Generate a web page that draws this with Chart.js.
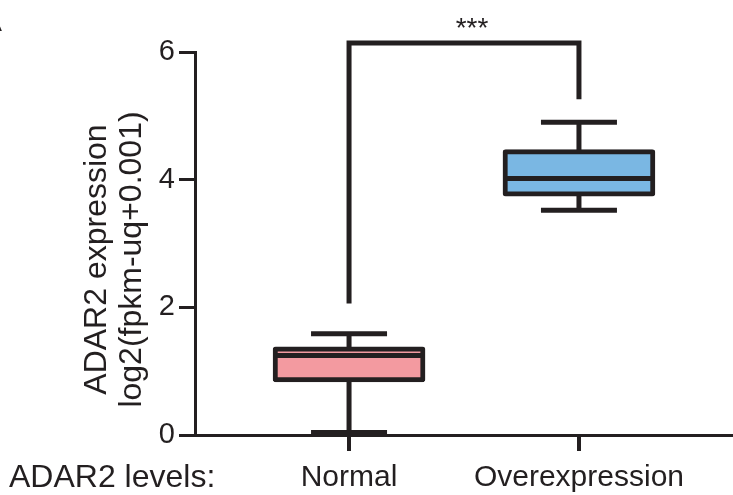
<!DOCTYPE html>
<html lang="en">
<head>
<meta charset="UTF-8" />
<title>ADAR2 expression</title>
<script src="https://cdn.jsdelivr.net/npm/chart.js@4/dist/chart.umd.min.js"></script>
<style>
  body { margin: 0; background: #fff; }
  .chart-container { position: relative; width: 733px; height: 495px; }
</style>
</head>
<body>
<div class="chart-container"><canvas id="chart1"></canvas></div>
<script>
// data
const categories = ['Normal', 'Overexpression'];
const whiskerLow = [0.04, 3.52];
const boxLow = [0.83, 3.74];
const medians = [1.245, 4.02];
const boxHigh = [1.38, 4.47];
const whiskerHigh = [1.585, 4.90];
const boxColors = ['#f39aa0', '#7ab7e3'];
const yTicks = [0, 2, 4, 6];

// significance bracket between the two groups
const bracketFeet = [2.06, 5.26];
const bracketTop = 6.14;
const bracketLabel = '***';

const yTitle = ['ADAR2 expression', 'log2(fpkm-uq+0.001)'];
const xLead = 'ADAR2 levels:';

const ink = '#231f20';
const font = 'Liberation Sans, Arial, Helvetica, sans-serif';
const xTickLen = 16, xTickPad = 12;

const boxExtras = {
  id: 'boxExtras',
  beforeDatasetsDraw(chart) {
    const { ctx, scales: { x, y } } = chart;
    const bars = chart.getDatasetMeta(0).data;
    ctx.save();
    ctx.strokeStyle = ink;
    ctx.lineWidth = 5;
    categories.forEach((c, i) => {
      const cx = x.getPixelForValue(i + 1);
      const half = bars[i].width / 4;
      ctx.beginPath();
      ctx.moveTo(cx, y.getPixelForValue(whiskerLow[i]));
      ctx.lineTo(cx, y.getPixelForValue(whiskerHigh[i]));
      [whiskerLow[i], whiskerHigh[i]].forEach(v => {
        const py = y.getPixelForValue(v);
        ctx.moveTo(cx - half, py);
        ctx.lineTo(cx + half, py);
      });
      ctx.stroke();
    });
    ctx.restore();
  },
  afterDatasetsDraw(chart) {
    const { ctx, chartArea, scales: { x, y } } = chart;
    const bars = chart.getDatasetMeta(0).data;
    ctx.save();
    ctx.strokeStyle = ink;
    ctx.lineWidth = 5;

    // medians
    categories.forEach((c, i) => {
      const cx = x.getPixelForValue(i + 1);
      const half = bars[i].width / 2 - 3;
      const py = y.getPixelForValue(medians[i]);
      ctx.beginPath();
      ctx.moveTo(cx - half, py);
      ctx.lineTo(cx + half, py);
      ctx.stroke();
    });

    // bracket
    const x1 = x.getPixelForValue(1), x2 = x.getPixelForValue(2);
    const top = y.getPixelForValue(bracketTop);
    ctx.beginPath();
    ctx.moveTo(x1, y.getPixelForValue(bracketFeet[0]));
    ctx.lineTo(x1, top);
    ctx.lineTo(x2, top);
    ctx.lineTo(x2, y.getPixelForValue(bracketFeet[1]));
    ctx.lineJoin = 'miter';
    ctx.stroke();

    ctx.fillStyle = ink;
    ctx.font = '28px ' + font;
    ctx.textAlign = 'center';
    ctx.textBaseline = 'alphabetic';
    ctx.fillText(bracketLabel, (x1 + x2) / 2 + 8, top - 6.5);

    // lead label on the x tick row
    ctx.font = '32px ' + font;
    ctx.textAlign = 'left';
    ctx.textBaseline = 'middle';
    ctx.fillText(xLead, 9, x.top + xTickLen + xTickPad + 15);

    // y title, two lines
    ctx.save();
    ctx.translate(97, (chartArea.top + chartArea.bottom) / 2 + 16);
    ctx.rotate(-Math.PI / 2);
    ctx.textAlign = 'center';
    ctx.textBaseline = 'middle';
    ctx.font = '32px ' + font;
    yTitle.forEach((t, k) => ctx.fillText(t, 0, k * 35));
    ctx.restore();

    // cut-off panel letter
    ctx.font = '28px ' + font;
    ctx.textAlign = 'right';
    ctx.textBaseline = 'alphabetic';
    ctx.fillText('A', 2, 31);
    ctx.restore();
  }
};

const ctx = document.getElementById('chart1');
const myChart = new Chart(ctx, {
  type: 'bar',
  data: {
    datasets: [{
      data: categories.map((c, i) => ({ x: i + 1, y: [boxLow[i], boxHigh[i]] })),
      backgroundColor: boxColors,
      borderColor: ink,
      borderWidth: 5,
      borderSkipped: false,
      borderRadius: 3,
      barThickness: 152
    }]
  },
  options: {
    responsive: true,
    maintainAspectRatio: false,
    animation: false,
    layout: { padding: { top: 52, left: 0, right: 0, bottom: 0 } },
    plugins: { legend: { display: false }, tooltip: { enabled: false } },
    scales: {
      x: {
        type: 'linear',
        offset: false,
        min: 0.33,
        max: 2.67,
        afterBuildTicks: s => { s.ticks = categories.map((c, i) => ({ value: i + 1 })); },
        afterFit: s => { s.height = 60; s.paddingLeft = 0; s.paddingRight = 0; },
        ticks: {
          callback: v => categories[v - 1],
          color: ink,
          font: { family: font, size: 30, lineHeight: 1 },
          padding: xTickPad,
          maxRotation: 0
        },
        grid: { offset: false, drawOnChartArea: false, tickLength: xTickLen, color: ink, lineWidth: 4 },
        border: { color: ink, width: 3 }
      },
      y: {
        min: 0,
        max: 6,
        afterBuildTicks: s => { s.ticks = yTicks.map(v => ({ value: v })); },
        afterFit: s => { s.width = 195; },
        ticks: {
          color: ink,
          font: { family: font, size: 29 },
          padding: 4
        },
        grid: { drawOnChartArea: false, tickLength: 16, color: ink, lineWidth: 3 },
        border: { color: ink, width: 3 }
      }
    }
  },
  plugins: [boxExtras]
});
</script>
</body>
</html>
